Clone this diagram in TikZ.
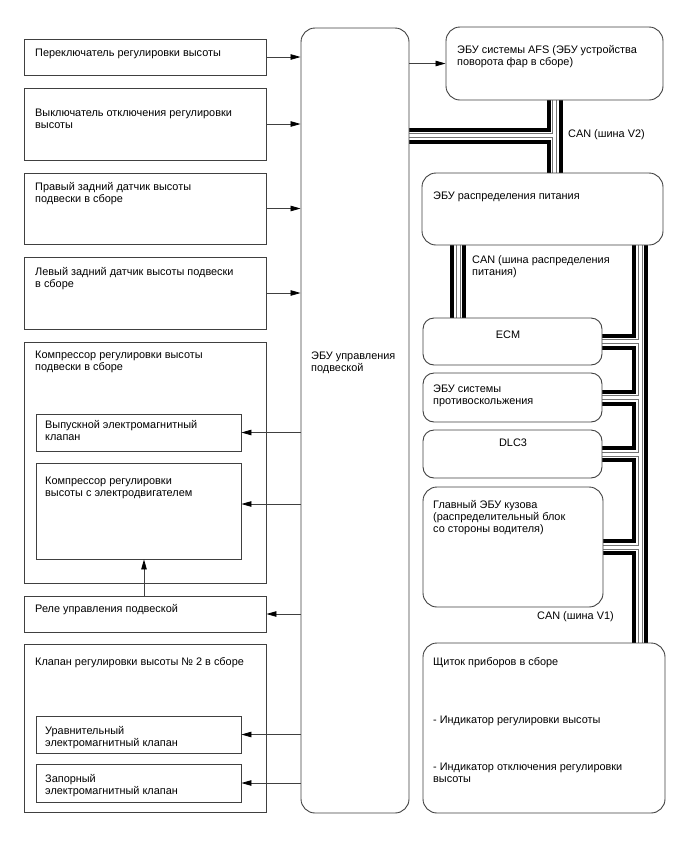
\documentclass[tikz,border=0pt]{standalone}
\usepackage{fontspec}
\setmainfont{Liberation Sans}
\usetikzlibrary{arrows.meta}
\pgfdeclarelayer{bg}
\pgfsetlayers{bg,main}
\newcommand\fs{\fontsize{10.9}{12.4}\selectfont}
\begin{document}
\begin{tikzpicture}[x=1pt,y=-1pt,
  lbox/.style={draw=black!75, line width=0.9pt, fill=white, inner sep=0pt},
  rbox/.style={lbox, rounded corners=14pt},
  sbox/.style={lbox, rounded corners=11pt},
  txt/.style={anchor=base west, inner sep=0pt, align=left, font=\fs, text=black},
  ctxt/.style={anchor=base, inner sep=0pt, font=\fs, text=black},
  arr/.style={draw=black!75, line width=0.8pt, -{Triangle[length=10pt,width=5.5pt,color=black]}},
  busA/.style={line width=16pt, draw=black},
  busB/.style={line width=8pt, draw=white},
  busC/.style={line width=5pt, draw=black!55},
  busD/.style={line width=3pt, draw=white}]
\useasboundingbox (0,0) rectangle (688,852);

% left column boxes
\node[lbox, minimum width=242pt, minimum height=36pt] (b1) at (145,57) {};
\node[lbox, minimum width=242pt, minimum height=72pt] (b2) at (145,124) {};
\node[lbox, minimum width=242pt, minimum height=71pt] (b3) at (145,208.5) {};
\node[lbox, minimum width=242pt, minimum height=72pt] (b4) at (145,293) {};
\node[lbox, minimum width=242pt, minimum height=241pt] (g1) at (145,462.5) {};
\node[lbox, minimum width=205pt, minimum height=37pt] (v1) at (138.5,432.5) {};
\node[lbox, minimum width=205pt, minimum height=96pt] (mot) at (138.5,511) {};
\node[lbox, minimum width=242pt, minimum height=36pt] (rel) at (145,614) {};
\node[lbox, minimum width=242pt, minimum height=168pt] (g2) at (145,728) {};
\node[lbox, minimum width=205pt, minimum height=37pt] (eq) at (138.5,734.5) {};
\node[lbox, minimum width=205pt, minimum height=38pt] (sh) at (138.5,783) {};

% main ECU
\node[rbox, minimum width=108pt, minimum height=785pt] (main) at (355,420.5) {};

% right column
\node[rbox, minimum width=217pt, minimum height=73pt] (afs) at (554.5,63.5) {};
\node[rbox, minimum width=241pt, minimum height=72pt] (pd) at (542.5,209) {};
\node[sbox, minimum width=179pt, minimum height=47pt] (ecm) at (512.5,341.5) {};
\node[sbox, minimum width=179pt, minimum height=49pt] (abs) at (512.5,397.5) {};
\node[sbox, minimum width=179pt, minimum height=48pt] (dlc) at (512.5,454) {};
\node[rbox, minimum width=180pt, minimum height=120pt] (bcm) at (513,547) {};
\node[rbox, minimum width=242pt, minimum height=170pt] (ic) at (544,728) {};

\coordinate (v2) at (554.5,135.5);
\coordinate (busL) at (458,0);
\coordinate (busR) at (640,0);
\coordinate (motp) at (0,504);
\coordinate (relx) at (144,0);

% CAN buses (twisted pair look)
\begin{pgfonlayer}{bg}
\foreach \st in {busA,busB,busC,busD}{
  \draw[\st] ([yshift=2pt]afs.south) -- ([yshift=-2pt]pd.north -| afs.south)
    ([xshift=-2pt]main.east |- v2) -- (v2)
    ([yshift=2pt]pd.south -| busL) -- ([yshift=-2pt]ecm.north -| busL)
    ([yshift=2pt]pd.south -| busR) -- ([yshift=-2pt]ic.north -| busR)
    ([xshift=-2pt]ecm.east) -- (ecm.east -| busR)
    ([xshift=-2pt]abs.east) -- (abs.east -| busR)
    ([xshift=-2pt]dlc.east) -- (dlc.east -| busR)
    ([xshift=-2pt]bcm.east) -- (bcm.east -| busR);
}
\end{pgfonlayer}

% arrows
\draw[arr] (b1.east) -- (b1.east -| main.west);
\draw[arr] (b2.east) -- (b2.east -| main.west);
\draw[arr] (b3.east) -- (b3.east -| main.west);
\draw[arr] (b4.east) -- (b4.east -| main.west);
\draw[arr] (v1.east -| main.west) -- (v1.east);
\draw[arr] (main.west |- motp) -- (mot.east |- motp);
\draw[arr] (rel.east -| main.west) -- (rel.east);
\draw[arr] (eq.east -| main.west) -- (eq.east);
\draw[arr] (sh.east -| main.west) -- (sh.east);
\draw[arr] (rel.north -| relx) -- (mot.south -| relx);
\draw[arr] (main.east |- afs.west) -- (afs.west);

% texts (base = baseline of last line)
\node[txt] (t1) at (35,56.5) {Переключатель регулировки высоты};
\node[txt] (t2) at (35,128.4) {Выключатель отключения регулировки\\высоты};
\node[txt] (t3) at (35,202.4) {Правый задний датчик высоты\\подвески в сборе};
\node[txt] (t4) at (35,287.4) {Левый задний датчик высоты подвески\\в сборе};
\node[txt] (tg1) at (35,370.9) {Компрессор регулировки высоты\\подвески в сборе};
\node[txt] (tv1) at (45,440.4) {Выпускной электромагнитный\\клапан};
\node[txt] (tmot) at (45,496.4) {Компрессор регулировки\\высоты с электродвигателем};
\node[txt] (trel) at (35,612.5) {Реле управления подвеской};
\node[txt] (tg2) at (35,665) {Клапан регулировки высоты № 2 в сборе};
\node[txt] (teq) at (45,746.4) {Уравнительный\\электромагнитный клапан};
\node[txt] (tsh) at (45,794.4) {Запорный\\электромагнитный клапан};
\node[txt] (tmain) at (311,371.4) {ЭБУ управления\\подвеской};
\node[txt] (tafs) at (457,65.4) {ЭБУ системы AFS (ЭБУ устройства\\поворота фар в сборе)};
\node[txt] (tv2) at (568,137) {CAN (шина V2)};
\node[txt] (tpd) at (433,199.5) {ЭБУ распределения питания};
\node[txt] (tpdbus) at (472,275.4) {CAN (шина распределения\\питания)};
\node[ctxt] (tecm) at (508,338) {ECM};
\node[txt] (tabs) at (433,404.9) {ЭБУ системы\\противоскольжения};
\node[ctxt] (tdlc) at (513,446.5) {DLC3};
\node[txt] (tbcm) at (433,532.8) {Главный ЭБУ кузова\\(распределительный блок\\со стороны водителя)};
\node[txt] (tv1bus) at (537,619) {CAN (шина V1)};
\node[txt] (tic1) at (433,665) {Щиток приборов в сборе};
\node[txt] (tic2) at (433,723) {- Индикатор регулировки высоты};
\node[txt] (tic3) at (433,782.9) {- Индикатор отключения регулировки\\высоты};
\end{tikzpicture}
\end{document}
